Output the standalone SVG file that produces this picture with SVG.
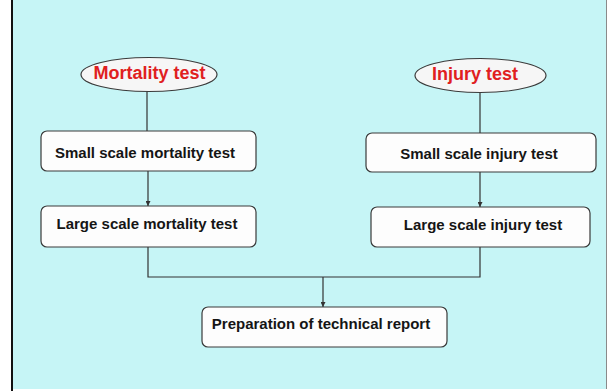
<svg xmlns="http://www.w3.org/2000/svg" width="608" height="391" viewBox="0 0 608 391">
<style>
.box{fill:#fdfdfd;stroke:#3a3a3a;stroke-width:1.2}
.ell{fill:#f6f6f6;stroke:#3a3a3a;stroke-width:1.2}
.t{font-family:"Liberation Sans",Arial,sans-serif;font-weight:bold;font-size:15px;fill:#151515;text-anchor:middle}
.rt{font-family:"Liberation Sans",Arial,sans-serif;font-weight:bold;font-size:18px;fill:#e0201e;text-anchor:middle}
.c{fill:none;stroke:#333;stroke-width:1.2}
</style>
<defs>
<marker id="ah" viewBox="0 0 6 6" refX="6" refY="3" markerWidth="5" markerHeight="5" orient="auto" markerUnits="userSpaceOnUse">
<path d="M0,0 L6,3 L0,6 z" fill="#333"/>
</marker>
</defs>
<rect x="0" y="0" width="608" height="391" fill="#ffffff"/>
<rect x="12" y="0" width="595" height="389" fill="#c6f5f6"/>
<line x1="12" y1="0" x2="12" y2="391" stroke="#111" stroke-width="2"/>
<line x1="606.5" y1="0" x2="606.5" y2="389" stroke="#8a8a8a" stroke-width="1"/>
<g id="connectors">
<line class="c" x1="147" y1="92" x2="147" y2="131"/>
<line class="c" x1="480" y1="93" x2="480" y2="133"/>
<line class="c" x1="148" y1="171" x2="148" y2="206" marker-end="url(#ah)"/>
<line class="c" x1="480" y1="172" x2="480" y2="207" marker-end="url(#ah)"/>
<polyline class="c" points="148,247 148,277 480,277 480,247"/>
<line class="c" x1="323" y1="277" x2="323" y2="307" marker-end="url(#ah)"/>
</g>
<g id="mortality-test">
<ellipse class="ell" cx="149" cy="74.5" rx="68" ry="17"/>
<text class="rt" x="149.5" y="79">Mortality test</text>
</g>
<g id="injury-test">
<ellipse class="ell" cx="480.5" cy="75.5" rx="65.5" ry="17"/>
<text class="rt" x="475" y="80">Injury test</text>
</g>
<g id="small-mortality">
<rect class="box" x="41" y="131" width="215" height="40" rx="6"/>
<text class="t" x="145" y="158">Small scale mortality test</text>
</g>
<g id="large-mortality">
<rect class="box" x="41" y="206" width="215" height="41" rx="6"/>
<text class="t" x="147" y="229">Large scale mortality test</text>
</g>
<g id="small-injury">
<rect class="box" x="366" y="133" width="230" height="39" rx="6"/>
<text class="t" x="479" y="159">Small scale injury test</text>
</g>
<g id="large-injury">
<rect class="box" x="371" y="207" width="219" height="40" rx="6"/>
<text class="t" x="483" y="230">Large scale injury test</text>
</g>
<g id="technical-report">
<rect class="box" x="202" y="307" width="245" height="40" rx="6"/>
<text class="t" x="321" y="329">Preparation of technical report</text>
</g>
</svg>
